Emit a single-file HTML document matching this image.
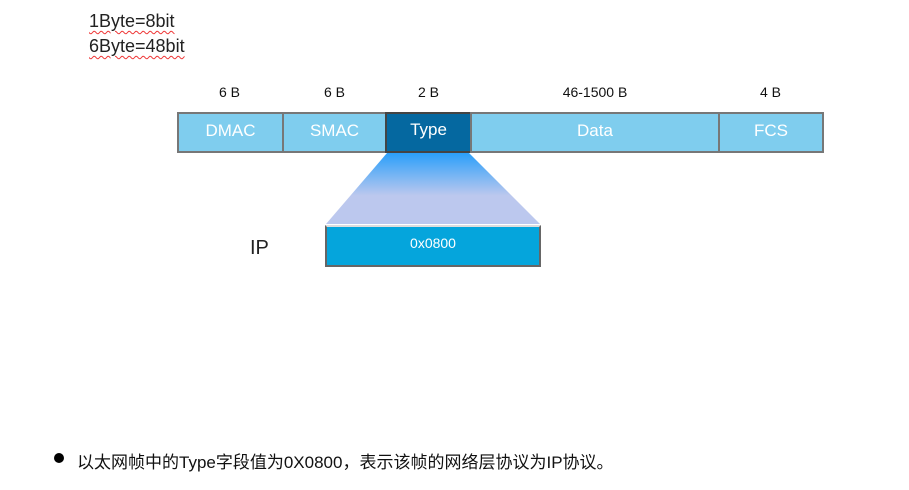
<!DOCTYPE html>
<html><head><meta charset="utf-8"><style>
body{margin:0;width:909px;height:490px;background:#fff;position:relative;overflow:hidden;font-family:"Liberation Sans","Noto Sans CJK SC",sans-serif}
.a{position:absolute}
.t{position:absolute;font-size:18px;color:#222;text-decoration:underline wavy #e33;text-decoration-thickness:1px;text-underline-offset:3px}
.c{position:absolute;top:112px;height:37px;background:#7fcdee;border:2px solid #777;color:#fff;font-size:17px;text-align:center;line-height:34px;box-sizing:content-box}
.l{position:absolute;top:84px;font-size:14px;color:#111;text-align:center}
</style></head><body>
<div class="t" style="left:89px;top:11px">1Byte=8bit</div>
<div class="t" style="left:89px;top:36px">6Byte=48bit</div>
<div class="l" style="left:177px;width:105px">6 B</div>
<div class="l" style="left:282px;width:105px">6 B</div>
<div class="l" style="left:385px;width:87px">2 B</div>
<div class="l" style="left:470px;width:250px">46-1500 B</div>
<div class="l" style="left:718px;width:105px">4 B</div>
<div class="c" style="left:177px;width:103px">DMAC</div>
<div class="c" style="left:282px;width:101px">SMAC</div>
<div class="c" style="left:385px;width:83px;background:#0568a0;border-color:#444;line-height:31px">Type</div>
<div class="c" style="left:470px;width:246px">Data</div>
<div class="c" style="left:718px;width:102px">FCS</div>
<svg class="a" style="left:0;top:0" width="909" height="490">
<defs><linearGradient id="g" x1="0" y1="0" x2="0" y2="1"><stop offset="0" stop-color="#2a9ffa"/><stop offset="0.6" stop-color="#bcc8ee"/><stop offset="1" stop-color="#bcc8ee"/></linearGradient></defs>
<polygon points="387,153 469,153 540,224 326,224" fill="url(#g)"/>
</svg>
<div class="a" style="left:325px;top:225px;width:212px;height:38px;background:#05a5dc;border:2px solid #666;border-top-color:#ddd;color:#fff;font-size:14px;text-align:center;line-height:32px">0x0800</div>
<div class="a" style="left:250px;top:237px;font-size:20px;color:#222">IP</div>
<div class="a" style="left:54px;top:453px;width:10px;height:10px;border-radius:50%;background:#000"></div>
<div class="a" style="left:77px;top:448px;font-size:17px;color:#111">以太网帧中的Type字段值为0X0800，表示该帧的网络层协议为IP协议。</div>
</body></html>
